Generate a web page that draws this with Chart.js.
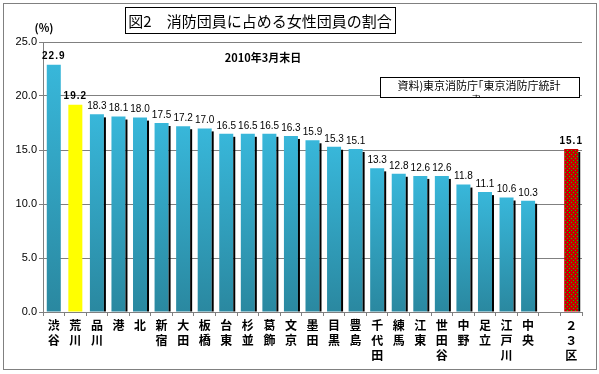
<!DOCTYPE html>
<html lang="ja">
<head>
    <meta charset="UTF-8">
    <title>消防団員に占める女性団員の割合</title>
    <script src="https://cdn.jsdelivr.net/npm/chart.js"></script>
    <style>
        body { margin: 0; background: #fff; }
        #wrap { width: 599px; height: 374px; }
    </style>
</head>
<body>
    <div id="wrap"><canvas id="myChart" width="599" height="374"></canvas></div>
    <script>
        const wards = ['渋谷', '荒川', '品川', '港', '北', '新宿', '大田', '板橋', '台東', '杉並', '葛飾', '文京',
            '墨田', '目黒', '豊島', '千代田', '練馬', '江東', '世田谷', '中野', '足立', '江戸川', '中央', '', '２３区'];
        const ratios = [22.9, 19.2, 18.3, 18.1, 18.0, 17.5, 17.2, 17.0, 16.5, 16.5, 16.5, 16.3,
            15.9, 15.3, 15.1, 13.3, 12.8, 12.6, 12.6, 11.8, 11.1, 10.6, 10.3, null, 15.1];
        const yTicks = [0, 5, 10, 15, 20, 25];
        const boldIdx = [0, 1, 24];

        // stacked characters like the original
        const labels = wards.map(w => w.split(''));

        // red with green dots for 23区
        function dotPattern(ctx) {
            const c = document.createElement('canvas');
            c.width = 4; c.height = 4;
            const p = c.getContext('2d');
            p.fillStyle = '#c80000';
            p.fillRect(0, 0, 4, 4);
            p.fillStyle = '#00e000';
            p.fillRect(1, 0, 1, 1);
            p.fillRect(3, 2, 1, 1);
            return ctx.createPattern(c, 'repeat');
        }

        function barColor(context) {
            const i = context.dataIndex;
            const chart = context.chart;
            if (i === 1) return '#ffff00';
            if (i === 24) return dotPattern(chart.ctx);
            const area = chart.chartArea;
            if (!area) return '#34aed0';
            const top = chart.scales.y.getPixelForValue(ratios[i] || 0);
            const g = chart.ctx.createLinearGradient(0, top, 0, area.bottom);
            g.addColorStop(0, '#38b7da');
            g.addColorStop(1, '#2a88a0');
            return g;
        }

        const decor = {
            id: 'decor',
            beforeDraw(chart) {
                const c = chart.ctx;
                c.save();
                c.fillStyle = '#fff';
                c.fillRect(0, 0, chart.width, chart.height);
                c.strokeStyle = '#808080';
                c.lineWidth = 1;
                c.strokeRect(3.5, 3.5, 593, 366);
                c.restore();
            },
            afterDatasetsDraw(chart) {
                const c = chart.ctx;
                const meta = chart.getDatasetMeta(0);
                c.save();
                // right side shadows
                meta.data.forEach((bar, i) => {
                    if (ratios[i] == null || i < 2) return;
                    c.fillStyle = '#000';
                    c.fillRect(bar.x + bar.width / 2, bar.y + 3, 2, bar.base - bar.y - 3);
                });
                // value labels
                c.fillStyle = '#000';
                c.textAlign = 'center';
                c.textBaseline = 'bottom';
                meta.data.forEach((bar, i) => {
                    if (ratios[i] == null) return;
                    const bold = boldIdx.includes(i);
                    c.font = (bold ? 'bold ' : '') + '10px "Liberation Sans"';
                    c.letterSpacing = bold ? '1px' : '0px';
                    c.fillText(ratios[i].toFixed(1), bar.x, bar.y - 3);
                });
                c.letterSpacing = '0px';

                // title box
                c.lineWidth = 1;
                c.strokeStyle = '#000';
                c.fillStyle = '#fff';
                c.fillRect(125.5, 7.5, 270, 26);
                c.strokeRect(125.5, 7.5, 270, 26);
                c.fillStyle = '#000';
                c.textBaseline = 'middle';
                c.font = '15px "Noto Sans CJK JP"';
                c.fillText('図2　消防団員に占める女性団員の割合', 260, 21);

                // unit
                c.font = 'bold 11px "Noto Sans CJK JP"';
                c.fillText('(%)', 44, 28);

                // date
                c.font = 'bold 11px "Noto Sans CJK JP"';
                c.fillText('2010年3月末日', 263, 58);

                // source box, second line cut by the frame
                c.fillStyle = '#fff';
                c.fillRect(380.5, 77.5, 199, 20);
                c.beginPath();
                c.rect(381, 78, 198, 19);
                c.save();
                c.clip();
                c.fillStyle = '#000';
                c.font = '11px "Noto Sans CJK JP"';
                c.textAlign = 'center';
                c.fillText('資料)東京消防庁｢東京消防庁統計', 479, 86);
                c.fillText('書｣', 479, 101);
                c.restore();
                c.strokeStyle = '#000';
                c.strokeRect(380.5, 77.5, 199, 20);
                c.restore();
            }
        };

        const ctx = document.getElementById('myChart').getContext('2d');
        const myChart = new Chart(ctx, {
            type: 'bar',
            data: {
                labels: labels,
                datasets: [{
                    data: ratios,
                    backgroundColor: barColor,
                    borderWidth: 0,
                    barPercentage: 0.65,
                    categoryPercentage: 1
                }]
            },
            options: {
                responsive: false,
                animation: false,
                layout: { padding: { left: 0, top: 42, right: 17, bottom: 0 } },
                plugins: {
                    legend: { display: false },
                    tooltip: { enabled: false }
                },
                scales: {
                    x: {
                        afterFit: s => { s.height = 62; },
                        grid: {
                            offset: true,
                            drawOnChartArea: false,
                            tickLength: 4,
                            color: '#808080'
                        },
                        border: { color: '#808080' },
                        ticks: {
                            autoSkip: false,
                            maxRotation: 0,
                            padding: 2,
                            color: '#000',
                            font: { family: '"Noto Sans CJK JP"', size: 12, weight: 'bold', lineHeight: 1.25 }
                        }
                    },
                    y: {
                        min: 0,
                        max: 25,
                        afterFit: s => { s.width = 43; },
                        afterBuildTicks: s => { s.ticks = yTicks.map(v => ({ value: v })); },
                        grid: { color: '#808080', tickLength: 4 },
                        border: { color: '#808080' },
                        ticks: {
                            padding: 2,
                            color: '#000',
                            font: { family: '"Liberation Sans"', size: 11 },
                            callback: v => v.toFixed(1)
                        }
                    }
                }
            },
            plugins: [decor]
        });
    </script>
</body>
</html>
